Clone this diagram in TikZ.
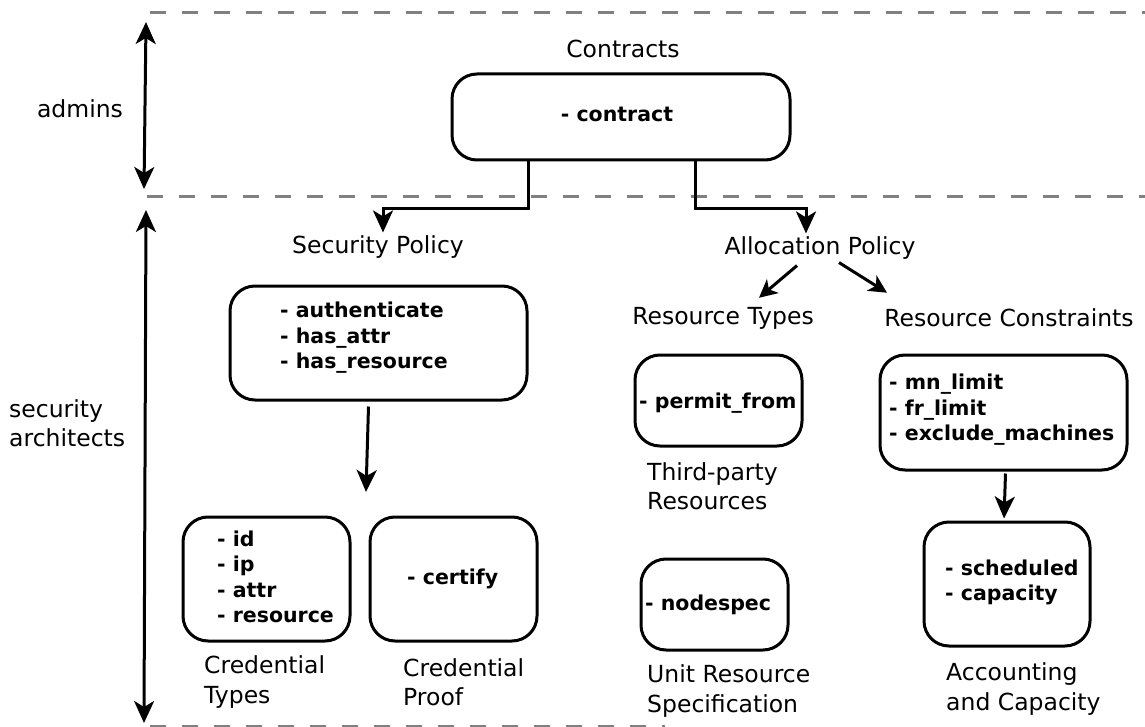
\documentclass[tikz,border=0pt]{standalone}
\usepackage{fontspec}
\setmainfont{DejaVu Sans}
\usetikzlibrary{arrows.meta}

\begin{document}
\begin{tikzpicture}[x=1pt,y=-1pt,
  box/.style={draw, line width=3pt, rounded corners=25pt, inner sep=0pt},
  lbl/.style={font=\fontsize{23.5}{29.5}\selectfont, inner sep=0pt, align=left},
  item/.style={font=\fontsize{20.5}{25.5}\selectfont\bfseries, inner sep=0pt, align=left, anchor=west},
  sep/.style={draw={rgb,255:red,128;green,128;blue,128}, line width=3pt, dash pattern=on 16pt off 16pt},
  conn/.style={line width=3pt, -{Stealth[length=22pt,width=20pt,inset=6pt]}},
  smallconn/.style={line width=3pt, -{Stealth[length=18pt,width=18pt,inset=5pt]}},
  span/.style={line width=3pt, {Stealth[length=22pt,width=20pt,inset=6pt]}-{Stealth[length=22pt,width=20pt,inset=6pt]}}
]
\useasboundingbox (0,0) rectangle (1145,727);

% layer separators
\draw[sep] (150,13) -- (1145,13);
\draw[sep] (147,197) -- (1145,197);
\draw[sep] (150,726) -- (665,726);

% roles
\coordinate (admtop) at (146,22);
\coordinate (admbot) at (144,189);
\coordinate (sectop) at (146,210);
\coordinate (secbot) at (144,723);
\draw[span] (admtop) -- (admbot);
\draw[span] (sectop) -- (secbot);
\node[lbl] (admins) at (80,109) {admins};
\node[lbl, anchor=west] (secarch) at (9,423) {security\\architects};

% contracts
\node[lbl] (contracts) at (623,49) {Contracts};
\node[box, minimum width=338pt, minimum height=86pt] (contract) at (621,117) {};
\node[item, anchor=center] (contracttxt) at (617,114) {- contract};

% policy headings
\node[lbl] (secpol) at (378,247) {Security Policy};
\node[lbl] (allocpol) at (820,248) {Allocation Policy};
\draw[conn] ([xshift=-93pt]contract.south) -- ++(0,47) -| ([xshift=5pt,yshift=3pt]secpol.north);
\draw[conn] ([xshift=74pt]contract.south) -- ++(0,47) -| ([xshift=-14pt,yshift=3pt]allocpol.north);

% security policy
\node[box, minimum width=297pt, minimum height=114pt] (spbox) at (378.5,343) {};
\node[item] (sptxt) at (280,338) {- authenticate\\- has\_attr\\- has\_resource};
\coordinate (credtop) at (366,492);
\draw[conn] ([xshift=-10pt,yshift=-5pt]spbox.south) -- (credtop);

\node[box, minimum width=167pt, minimum height=124pt] (ctbox) at (266.5,579) {};
\node[item] (cttxt) at (217,577) {- id\\- ip\\- attr\\- resource};
\node[box, minimum width=167pt, minimum height=124pt] (cpbox) at (453.5,579) {};
\node[item] (cptxt) at (407,579) {- certify};
\node[lbl, anchor=west] (ctlbl) at (204,682) {Credential\\Types};
\node[lbl, anchor=west] (cplbl) at (403,682) {Credential\\Proof};

% allocation policy
\node[lbl] (restypes) at (723,318) {Resource Types};
\node[lbl] (resconst) at (1009,318) {Resource Constraints};
\draw[smallconn] ([xshift=-23pt,yshift=-6pt]allocpol.south) -- ([xshift=36pt,yshift=9pt]restypes.north);
\draw[smallconn] ([xshift=19pt,yshift=-3pt]allocpol.south) -- ([xshift=-122pt,yshift=16pt]resconst.north);

\node[box, minimum width=167pt, minimum height=91pt] (pfbox) at (718.5,400.5) {};
\node[item] (pftxt) at (639,403) {- permit\_from};
\node[lbl, anchor=west] (pflbl) at (647,486) {Third-party\\Resources};

\node[box, minimum width=147pt, minimum height=91pt] (nsbox) at (714.5,604.5) {};
\node[item] (nstxt) at (645,605) {- nodespec};
\node[lbl, anchor=west] (nslbl) at (647,691) {Unit Resource\\Specification};

\node[box, minimum width=247pt, minimum height=115pt] (rcbox) at (1003.5,412.5) {};
\node[item] (rctxt) at (889,410) {- mn\_limit\\- fr\_limit\\- exclude\_machines};

\node[box, minimum width=166pt, minimum height=124pt] (schedbox) at (1007,584) {};
\node[item] (schedtxt) at (945,582.5) {- scheduled\\- capacity};
\draw[conn] ([xshift=2pt,yshift=-2pt]rcbox.south) -- ([xshift=-3pt,yshift=2pt]schedbox.north);
\node[lbl, anchor=west] (acclbl) at (946,689) {Accounting\\and Capacity};
\end{tikzpicture}
\end{document}
